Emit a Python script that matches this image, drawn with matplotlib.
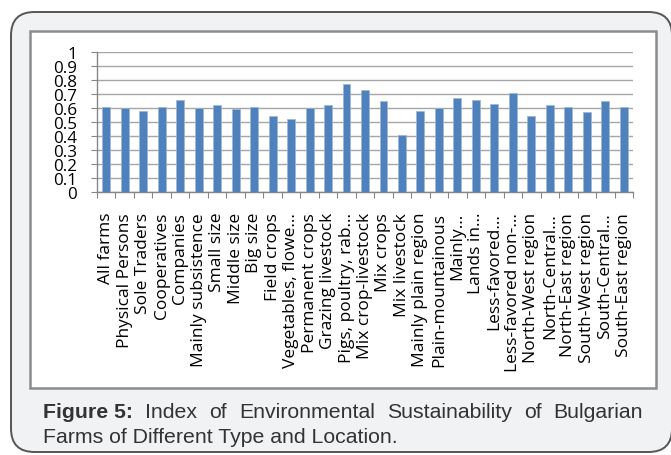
import matplotlib
matplotlib.use('Agg')
import matplotlib.pyplot as plt
from matplotlib.patches import FancyBboxPatch, Rectangle

# ==================== Data ====================
CATEGORIES = [
    "All farms", "Physical Persons", "Sole Traders", "Cooperatives",
    "Companies", "Mainly subsistence", "Small size", "Middle size",
    "Big size", "Field crops", "Vegetables, flowe...", "Permanent crops",
    "Grazing livestock", "Pigs, poultry, rab...", "Mix crop-livestock",
    "Mix crops", "Mix livestock", "Mainly plain region",
    "Plain-mountainous", "Mainly...", "Lands in...", "Less-favored...",
    "Less-favored non-...", "North-West region", "North-Central...",
    "North-East region", "South-West region", "South-Central...",
    "South-East region",
]
VALUES = [
    0.61, 0.60, 0.58, 0.61, 0.66, 0.60, 0.62, 0.59, 0.61, 0.54, 0.52,
    0.60, 0.62, 0.77, 0.73, 0.65, 0.41, 0.58, 0.60, 0.67, 0.66, 0.63,
    0.71, 0.54, 0.62, 0.61, 0.57, 0.65, 0.61,
]
Y_TICKS = [0, 0.1, 0.2, 0.3, 0.4, 0.5, 0.6, 0.7, 0.8, 0.9, 1]
Y_LABELS = ['0', '0.1', '0.2', '0.3', '0.4', '0.5', '0.6', '0.7', '0.8', '0.9', '1']

CAPTION_1 = ["Index", "of", "Environmental", "Sustainability", "of", "Bulgarian"]
CAPTION_2 = "Farms of Different Type and Location."

W, H = 671, 456
BAR_COLOR = '#4f81bd'
FONT = ['Open Sans', 'DejaVu Sans']
CAP_FONT = ['Liberation Sans', 'DejaVu Sans']

fig = plt.figure(figsize=(W / 100, H / 100), dpi=100)
fig.patch.set_facecolor('white')


def fx(px):
    return px / W


def fy(py):
    return 1 - py / H


# background frames, drawn below the chart axes
frame = FancyBboxPatch((fx(11), fy(453)), fx(672) - fx(11), fy(13) - fy(453),
                       boxstyle='round,pad=0,rounding_size=0.035',
                       transform=fig.transFigure, facecolor='#f1f2f4',
                       edgecolor='#555555', linewidth=1.4,
                       mutation_aspect=W / H, zorder=-2)
fig.patches.append(frame)

box = Rectangle((fx(30), fy(389)), fx(656) - fx(30), fy(32) - fy(389),
                transform=fig.transFigure, facecolor='white',
                edgecolor='#8c8c8c', linewidth=1.8, zorder=-1)
fig.patches.append(box)

# ==================== Bar chart ====================
ax = fig.add_axes([fx(97), fy(193), fx(633) - fx(97), fy(53) - fy(193)])
ax.set_zorder(1)
ax.set_facecolor('white')
x = list(range(len(CATEGORIES)))
ax.bar(x, VALUES, width=0.43, color=BAR_COLOR, edgecolor='#9cb6d8',
       linewidth=0.5, zorder=3)

ax.set_xlim(-0.5, len(CATEGORIES) - 0.5)
ax.set_ylim(0, 1)
ax.set_yticks(Y_TICKS)
ax.set_yticklabels(Y_LABELS, family=FONT, fontsize=12)
ax.yaxis.grid(True, color='#a6a6a6', linewidth=1.0, zorder=0)

# ticks between categories, labels at centres
ax.set_xticks([i - 0.5 for i in range(len(CATEGORIES) + 1)])
ax.set_xticklabels([])
ax.set_xticks(x, minor=True)
ax.set_xticklabels(CATEGORIES, minor=True, rotation=90, family=FONT,
                   fontsize=12, ha='center', va='top')
ax.tick_params(axis='x', which='major', length=4.5, color='#868686')
ax.tick_params(axis='x', which='minor', length=0, pad=14)
ax.tick_params(axis='y', length=4.5, color='#868686', pad=9)

for side in ['top', 'right']:
    ax.spines[side].set_visible(False)
for side in ['left', 'bottom']:
    ax.spines[side].set_color('#868686')
    ax.spines[side].set_linewidth(1.0)

# --- size the tick labels to the reference's pixel extents ---
fig.canvas.draw()
renderer = fig.canvas.get_renderer()
xlab = ax.get_xticklabels(minor=True)[5]          # "Mainly subsistence"
xsize = 12 * 152 / xlab.get_window_extent(renderer).height
ylab = ax.get_yticklabels()[9]                    # "0.9"
ysize = 12 * 24 / ylab.get_window_extent(renderer).width
for t in ax.get_xticklabels(minor=True):
    t.set_fontsize(xsize)
for t in ax.get_yticklabels():
    t.set_fontsize(ysize)

fig.canvas.draw()
top = H - ax.get_xticklabels(minor=True)[0].get_window_extent(renderer).y1
ax.tick_params(axis='x', which='minor', pad=14 + (213 - top) * 0.72)
right = ax.get_yticklabels()[9].get_window_extent(renderer).x1
ax.tick_params(axis='y', pad=9 + (right - 77) * 0.72)

# ==================== Caption (justified first line) ====================
cap_size = 15.4
probe = fig.text(0, 0, CAPTION_2, family=CAP_FONT, fontsize=cap_size)
cap_size *= 355 / probe.get_window_extent(renderer).width
probe.remove()

cap_y1 = fy(413)
cap_y2 = fy(438)
x0, x1 = 43, 643

head = fig.text(fx(x0), cap_y1, "Figure 5:", family=CAP_FONT, fontsize=cap_size,
                fontweight='bold', color='#333333', va='center')
words = [fig.text(0, cap_y1, w, family=CAP_FONT, fontsize=cap_size,
                  color='#333333', va='center') for w in CAPTION_1]
widths = [t.get_window_extent(renderer).width for t in [head] + words]
gap = (x1 - x0 - sum(widths)) / len(words)
pos = x0 + widths[0] + gap
for t, w in zip(words, widths[1:]):
    t.set_x(fx(pos))
    pos += w + gap

fig.text(fx(x0), cap_y2, CAPTION_2, family=CAP_FONT, fontsize=cap_size,
         color='#333333', va='center')

fig.savefig('out.png', dpi=100, facecolor='white')
